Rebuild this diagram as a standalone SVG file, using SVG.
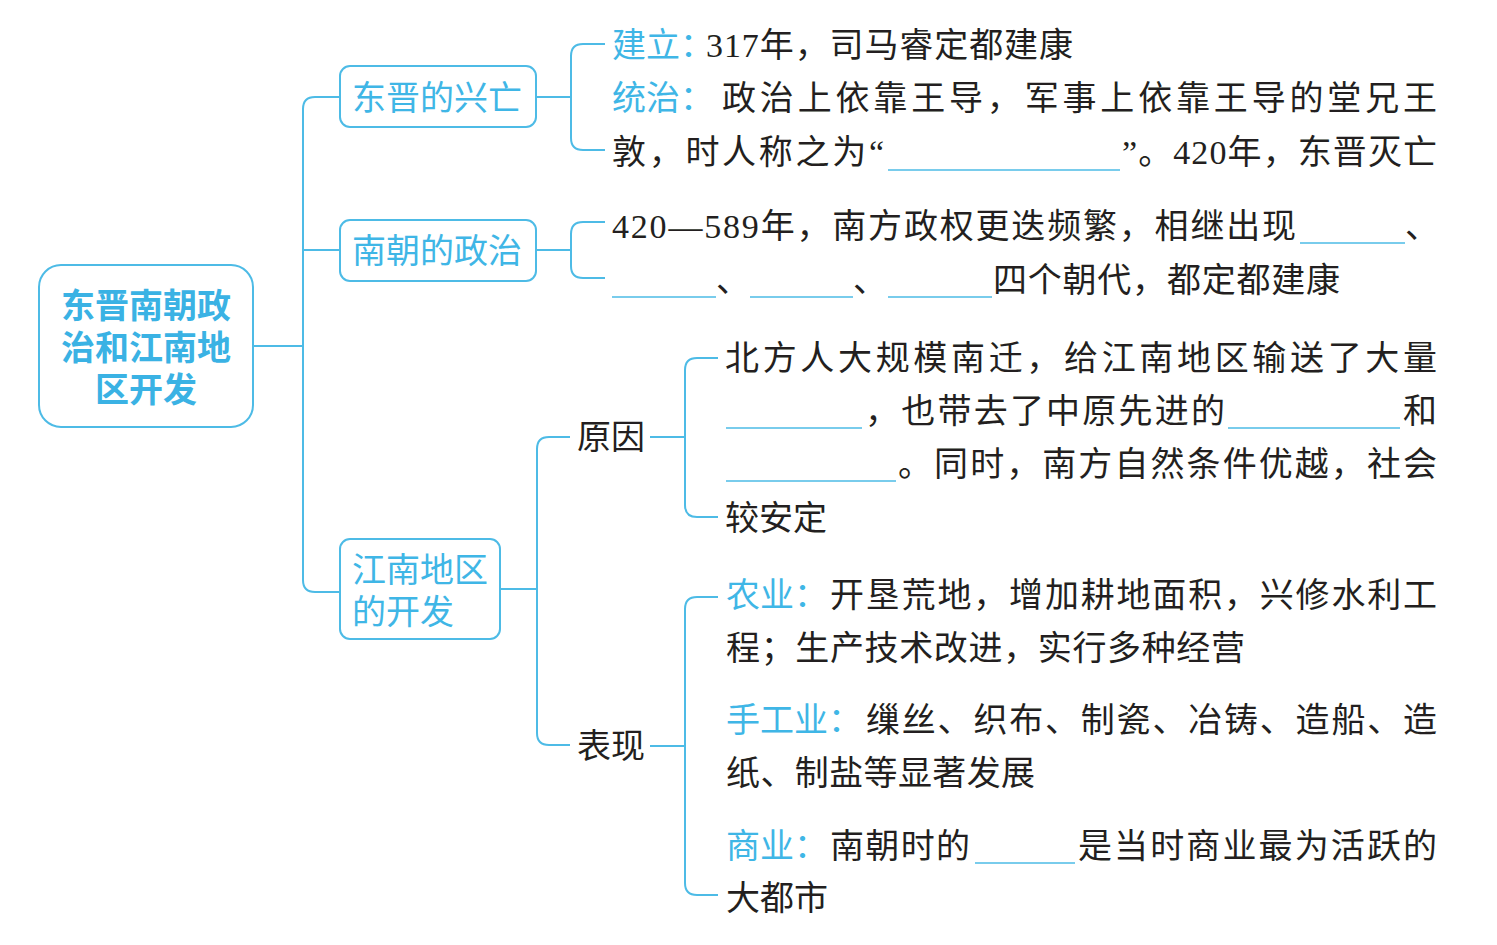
<svg xmlns="http://www.w3.org/2000/svg" width="1497" height="945" viewBox="0 0 1497 945">
<style>
.bg{fill:#ffffff}
.box{fill:#ffffff;stroke:#4dbbe6;stroke-width:2}
.con{fill:none;stroke:#4dbbe6;stroke-width:2}
.blank{stroke:#4dbbe6;stroke-width:1.6}
text{font-family:"Liberation Serif","Noto Sans CJK SC",serif;font-size:34px}
.t{fill:#231f20}
.c{fill:#3fb6e6}
.root{font-family:"Noto Sans CJK SC",sans-serif;font-weight:bold;fill:#3ab2e4;text-anchor:middle}
.bt{font-family:"Noto Sans CJK SC",sans-serif;fill:#3fb6e6}
</style>
<rect class="bg" x="0" y="0" width="1497" height="945"/>
<g id="connectors">
<path class="con" d="M253 346 H303"/>
<path class="con" d="M340 97 H315 Q303 97 303 109 V580 Q303 592 315 592 H340"/>
<path class="con" d="M303 250 H340"/>
<path class="con" d="M536 97 H571"/>
<path class="con" d="M605 44 H583 Q571 44 571 56 V138 Q571 150 583 150 H605"/>
<path class="con" d="M536 250 H571"/>
<path class="con" d="M605 222 H583 Q571 222 571 234 V266 Q571 278 583 278 H605"/>
<path class="con" d="M500 589 H537"/>
<path class="con" d="M570 437 H549 Q537 437 537 449 V733 Q537 745 549 745 H570"/>
<path class="con" d="M650 437 H685"/>
<path class="con" d="M718 358 H697 Q685 358 685 370 V505 Q685 517 697 517 H718"/>
<path class="con" d="M650 746 H685"/>
<path class="con" d="M718 597 H697 Q685 597 685 609 V883 Q685 895 697 895 H718"/>
</g>
<g id="root">
<rect class="box" x="39" y="265" width="214" height="162" rx="22"/>
<text class="root" x="146" y="318">东晋南朝政<tspan x="146" dy="42">治和江南地</tspan><tspan x="146" dy="42">区开发</tspan></text>
</g>
<g id="node-dongjin">
<rect class="box" x="340" y="66" width="196" height="61" rx="10"/>
<text class="bt" x="352" y="110">东晋的兴亡</text>
</g>
<g id="node-nanchao">
<rect class="box" x="340" y="220" width="196" height="61" rx="10"/>
<text class="bt" x="352" y="263">南朝的政治</text>
</g>
<g id="node-jiangnan">
<rect class="box" x="340" y="539" width="160" height="100" rx="10"/>
<text class="bt" x="352" y="582">江南地区<tspan x="352" dy="42">的开发</tspan></text>
</g>
<g id="text-dongjin">
<text class="c" x="612" y="57">建立：</text>
<text class="t" x="706" y="57" textLength="367" lengthAdjust="spacing">317年，司马睿定都建康</text>
<text class="c" x="612" y="110">统治：</text>
<text class="t" x="722" y="110" textLength="715" lengthAdjust="spacing">政治上依靠王导，军事上依靠王导的堂兄王</text>
<text class="t" x="612" y="164" textLength="272" lengthAdjust="spacing">敦，时人称之为“</text>
<line class="blank" x1="888" y1="170" x2="1120" y2="170"/>
<text class="t" x="1122" y="164" textLength="315" lengthAdjust="spacing">”。420年，东晋灭亡</text>
</g>
<g id="text-nanchao">
<text class="t" x="612" y="238" textLength="684" lengthAdjust="spacing">420—589年，南方政权更迭频繁，相继出现</text>
<line class="blank" x1="1300" y1="243" x2="1405" y2="243"/>
<text class="t" x="1405" y="238">、</text>
<line class="blank" x1="612" y1="297" x2="716" y2="297"/>
<text class="t" x="716" y="292">、</text>
<line class="blank" x1="750" y1="297" x2="853" y2="297"/>
<text class="t" x="853" y="292">、</text>
<line class="blank" x1="888" y1="297" x2="992" y2="297"/>
<text class="t" x="993" y="292" textLength="347" lengthAdjust="spacing">四个朝代，都定都建康</text>
</g>
<g id="node-yuanyin">
<text class="t" x="577" y="449">原因</text>
</g>
<g id="text-yuanyin">
<text class="t" x="725" y="370" textLength="712" lengthAdjust="spacing">北方人大规模南迁，给江南地区输送了大量</text>
<line class="blank" x1="726" y1="428" x2="862" y2="428"/>
<text class="t" x="865" y="423" textLength="360" lengthAdjust="spacing">，也带去了中原先进的</text>
<line class="blank" x1="1228" y1="428" x2="1400" y2="428"/>
<text class="t" x="1403" y="423">和</text>
<line class="blank" x1="726" y1="481" x2="896" y2="481"/>
<text class="t" x="898" y="476" textLength="539" lengthAdjust="spacing">。同时，南方自然条件优越，社会</text>
<text class="t" x="725" y="530">较安定</text>
</g>
<g id="node-biaoxian">
<text class="t" x="577" y="758">表现</text>
</g>
<g id="text-biaoxian">
<text class="c" x="726" y="607">农业：</text>
<text class="t" x="830" y="607" textLength="607" lengthAdjust="spacing">开垦荒地，增加耕地面积，兴修水利工</text>
<text class="t" x="726" y="660" textLength="519" lengthAdjust="spacing">程；生产技术改进，实行多种经营</text>
<text class="c" x="726" y="732">手工业：</text>
<text class="t" x="866" y="732" textLength="571" lengthAdjust="spacing">缫丝、织布、制瓷、冶铸、造船、造</text>
<text class="t" x="726" y="785" textLength="309" lengthAdjust="spacing">纸、制盐等显著发展</text>
<text class="c" x="726" y="858">商业：</text>
<text class="t" x="830" y="858" textLength="140" lengthAdjust="spacing">南朝时的</text>
<line class="blank" x1="975" y1="863" x2="1075" y2="863"/>
<text class="t" x="1078" y="858" textLength="359" lengthAdjust="spacing">是当时商业最为活跃的</text>
<text class="t" x="726" y="910">大都市</text>
</g>
</svg>
